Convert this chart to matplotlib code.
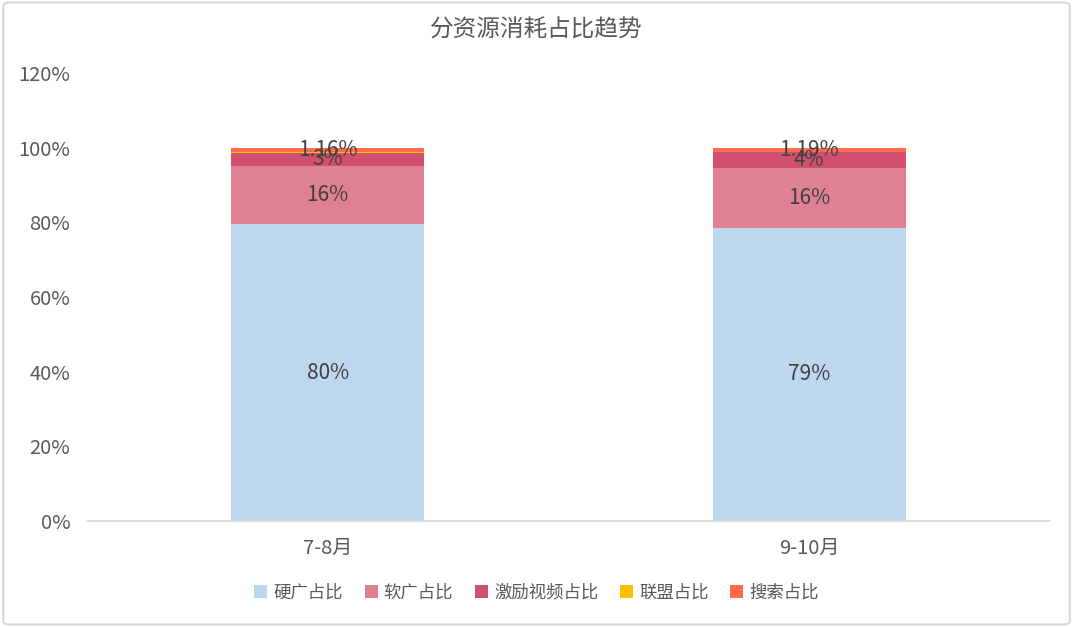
import matplotlib
matplotlib.use("Agg")
import matplotlib.pyplot as plt
from matplotlib.patches import FancyBboxPatch
from matplotlib.ticker import FuncFormatter, MultipleLocator

plt.rcParams['font.family'] = ['Noto Sans CJK SC', 'DejaVu Sans']

categories = ['7-8月', '9-10月']
series_names = ['硬广占比', '软广占比', '激励视频占比', '联盟占比', '搜索占比']
hard = [0.795, 0.786]
soft = [0.157, 0.159]
incentive = [0.034, 0.043]
league = [0.0024, 0.0005]
search = [0.0116, 0.0119]
colors = ['#BDD7EE', '#E08093', '#D2506F', '#FFC000', '#FF6D4A']

series = [hard, soft, incentive, league, search]

fig = plt.figure(figsize=(10.73, 6.27), dpi=100)
ax = fig.add_axes([0.081, 0.169, 0.8976, 0.7146])

x = list(range(len(categories)))
bottom = [0.0] * len(categories)
for name, vals, col in zip(series_names, series, colors):
    bars = ax.bar(x, vals, width=0.4, bottom=bottom, color=col, label=name, linewidth=0)
    if name == '联盟占比':
        labels = ['' for v in vals]
    elif name == '搜索占比':
        labels = [f"{v*100:.2f}%" for v in vals]
    else:
        labels = [f"{v*100:.0f}%" for v in vals]
    ax.bar_label(bars, labels=labels, label_type='center', fontsize=15, color='#404040')
    bottom = [b + v for b, v in zip(bottom, vals)]

ax.set_xlim(-0.5, 1.5)
ax.set_ylim(0, 1.2)
ax.yaxis.set_major_locator(MultipleLocator(0.2))
ax.yaxis.set_major_formatter(FuncFormatter(lambda v, p: f"{v*100:.0f}%"))
ax.set_xticks(x)
ax.set_xticklabels(categories)
for s in ['top', 'right', 'left']:
    ax.spines[s].set_visible(False)
ax.spines['bottom'].set_color('#D9D9D9')
ax.spines['bottom'].set_linewidth(1.2)
ax.tick_params(axis='both', length=0, labelsize=14.5, colors='#595959')
ax.tick_params(axis='y', pad=12)
ax.tick_params(axis='x', pad=12)

fig.text(0.5, 0.952, '分资源消耗占比趋势', ha='center', va='center', fontsize=17, color='#595959')

leg = fig.legend(loc='center', bbox_to_anchor=(0.5, 0.055), ncol=5, frameon=False,
                 fontsize=12.5, handlelength=0.75, handleheight=0.75, handletextpad=0.35,
                 columnspacing=1.25, labelcolor='#595959')

border = FancyBboxPatch((0.003, 0.004), 0.994, 0.992, boxstyle='round,pad=0,rounding_size=0.006',
                        transform=fig.transFigure, fill=False, edgecolor='#D9D9D9', linewidth=1.5)
fig.patches.append(border)

fig.savefig('out.png', dpi=100)
